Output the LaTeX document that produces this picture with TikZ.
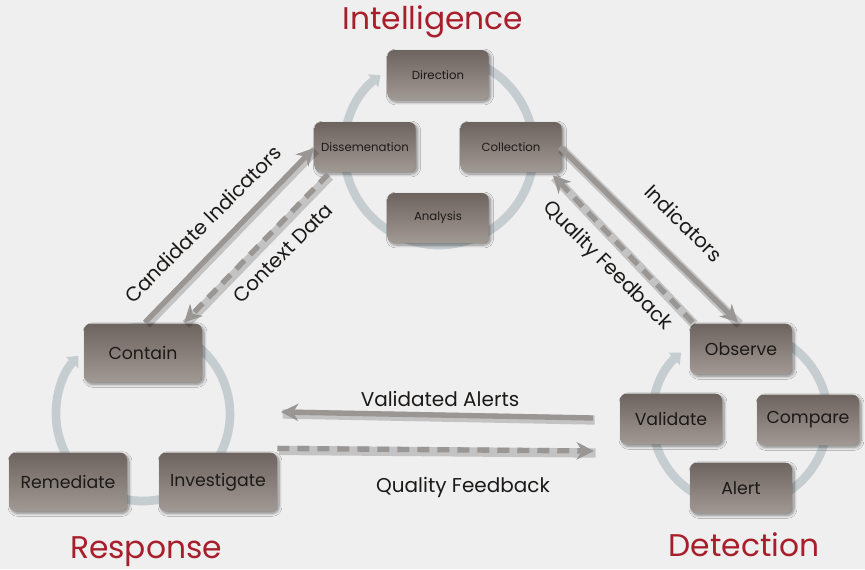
\documentclass[tikz,border=0pt]{standalone}
\usepackage{fontspec}
\setmainfont{Poppins}
\usetikzlibrary{arrows.meta,calc,shadows.blur}
\definecolor{bg}{HTML}{EFEFEF}
\definecolor{boxtop}{HTML}{6E645F}
\definecolor{boxbot}{HTML}{A19994}
\definecolor{ringc}{HTML}{C6CDD1}
\definecolor{arrc}{HTML}{9A9694}
\definecolor{titlered}{HTML}{A81E2B}
\definecolor{txt}{HTML}{1C1A19}
\tikzset{
  cbox/.style={draw=none, rounded corners=5pt, top color=boxtop, bottom color=boxbot,
    text=txt, inner sep=0pt,
    blur shadow={shadow xshift=1.5pt, shadow yshift=-1.5pt, shadow blur steps=6, shadow opacity=45}},
  ibox/.style={cbox, minimum width=76pt, minimum height=37.5pt, font=\fontsize{8.8}{10}\selectfont},
  dbox/.style={cbox, minimum width=76.5pt, minimum height=38pt, font=\fontsize{13}{15}\selectfont},
  rbox/.style={cbox, minimum width=88.5pt, minimum height=44pt, font=\fontsize{13}{15}\selectfont},
  ring/.style={draw=ringc, line width=6.5pt, -{Triangle[length=7pt,width=12pt]}},
  flow/.style={draw=arrc, line width=4pt, -{Stealth[length=13pt,width=13pt,inset=4pt]},
    preaction={draw=black, opacity=0.18, line width=7pt, -, transform canvas={shift={(1.2pt,-1.5pt)}}}},
  dflow/.style={flow, dash pattern=on 9pt off 6pt},
  lab/.style={text=txt, font=\fontsize{15}{17}\selectfont, inner sep=0pt},
  ttl/.style={text=titlered, font=\fontsize{23.5}{26}\selectfont, inner sep=0pt, anchor=base}
}
\begin{document}
\begin{tikzpicture}[x=0.75pt,y=-0.75pt]
\fill[bg] (0,0) rectangle (865,569);
\useasboundingbox (0,0) rectangle (865,569);

% rings
\coordinate (ic) at (439,150);
\coordinate (dc) at (740,418);
\coordinate (rc) at (143,414);
\draw[ring] (ic) ++(-110:95) arc[start angle=-110, end angle=232, radius=95];
\draw[ring] (dc) ++(-100:88) arc[start angle=-100, end angle=228, radius=88];
\draw[ring] (rc) ++(-100:87) arc[start angle=-100, end angle=222, radius=87];

% intelligence
\node[ibox] (dir) at (438,75) {Direction};
\node[ibox] (diss) at (365,147) {Dissemenation};
\node[ibox] (coll) at (511,147) {Collection};
\node[ibox] (ana) at (438,218) {Analysis};

% detection
\node[dbox] (obs) at (741,349) {Observe};
\node[dbox] (val) at (671,419) {Validate};
\node[dbox] (comp) at (808,420) {Compare};
\node[dbox] (alert) at (741,488) {Alert};

% response
\node[rbox] (cont) at (143,353) {Contain};
\node[rbox] (rem) at (68,482) {Remediate};
\node[rbox] (inv) at (218,482) {Investigate};

% titles
\node[ttl] (t1) at (433,29) {Intelligence};
\node[ttl] (t2) at (146,558) {Response};
\node[ttl] (t3) at (744,556) {Detection};

% connectors
\draw[flow] ($(cont.north)+(2,-1)$) -- ($(diss.west)+(0,1)$);
\draw[dflow] ($(diss.south west)+(14,2)$) -- ($(cont.north east)+(-18,-1)$);
\draw[flow] ($(coll.east)+(-2,0)$) -- ($(obs.north)+(-3,-1)$);
\draw[dflow] ($(obs.north west)+(3,-1)$) -- ($(coll.south east)+(-9,3)$);
\coordinate (va1) at (593,418);
\coordinate (va2) at (281,412);
\draw[flow] (va1) -- (va2);
\coordinate (qf2) at (594,451);
\draw[dflow] ($(inv.north east)+(0,-4)$) -- (qf2);

% labels
\node[lab, rotate=45] (l1) at (203,224) {Candidate Indicators};
\node[lab, rotate=45] (l2) at (283,253) {Context Data};
\node[lab, rotate=-45] (l3) at (684,223) {Indicators};
\node[lab, rotate=-45] (l4) at (607,266) {Quality Feedback};
\node[lab] (l5) at (440,399) {Validated Alerts};
\node[lab] (l6) at (463,487) {Quality Feedback};
\end{tikzpicture}
\end{document}
